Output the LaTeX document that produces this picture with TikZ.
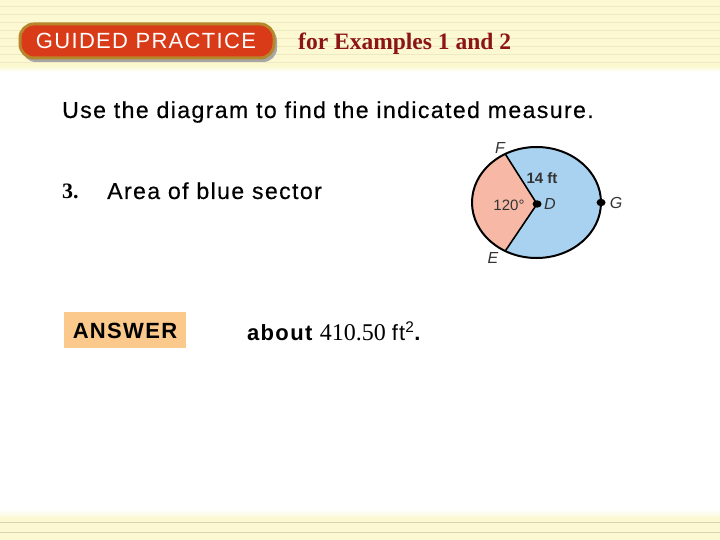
\documentclass[tikz,border=0pt]{standalone}
\usepackage{fontspec}
\setmainfont{Liberation Serif}
\setsansfont{Liberation Sans}
\newfontfamily\arialsp[LetterSpace=6,FakeBold=0.4]{Liberation Sans}
\newfontfamily\arialbt[LetterSpace=6]{Liberation Sans}
\usetikzlibrary{calc,shapes.geometric}
\definecolor{bandY}{HTML}{FBF8D2}
\definecolor{stripe}{HTML}{EDEAC0}
\definecolor{btnred}{HTML}{D93A17}
\definecolor{btngold}{HTML}{B8862A}
\definecolor{darkred}{HTML}{8C1414}
\definecolor{pinkS}{HTML}{F7B9A6}
\definecolor{blueS}{HTML}{A9D2F0}
\definecolor{ansbg}{HTML}{FBC98B}
\definecolor{lab}{HTML}{333333}
\tikzset{
  body/.style={font=\arialsp\fontsize{23.1}{26}\selectfont, inner sep=0pt, anchor=base west},
  dlabel/.style={font=\sffamily\fontsize{15}{17}\selectfont, text=lab, inner sep=0pt},
  dlet/.style={dlabel, font=\sffamily\itshape\fontsize{16}{18}\selectfont},
  dot/.style={ellipse, fill=black, inner sep=0pt, minimum width=9pt, minimum height=7.5pt},
}
\begin{document}
\begin{tikzpicture}[x=1pt,y=-1pt]
\useasboundingbox (0,0) rectangle (720,540);
% header band
\fill[bandY] (0,0) rectangle (720,66);
\shade[top color=bandY, bottom color=white] (0,66) rectangle (720,72);
\foreach \yy in {6,14,22,30,38,46,54,62}
  \draw[stripe, line width=0.8pt] (0,\yy) -- (720,\yy);
% bottom band
\shade[top color=white, bottom color=bandY] (0,510) rectangle (720,518);
\fill[bandY] (0,518) rectangle (720,540);
\foreach \yy in {522,532}
  \draw[stripe!80!gray, line width=0.8pt] (0,\yy) -- (720,\yy);
% button
\fill[black!35, rounded corners=14pt] (22,27) rectangle (277,62);
\draw[btngold, line width=3pt, fill=btnred, rounded corners=14pt] (20,24) rectangle (274,58);
\node[font=\arialbt\fontsize{22}{26}\selectfont, text=white, inner sep=0pt, anchor=base] (btn) at (146,49) {GUIDED PRACTICE};
\node[font=\bfseries\fontsize{23.5}{26}\selectfont, text=darkred, inner sep=0pt, anchor=base west] (ex) at (298,50) {for Examples 1 and 2};
% instruction
\node[body] (instr) at (62,118) {Use the diagram to find the indicated measure.};
\node[font=\bfseries\fontsize{22}{24}\selectfont, inner sep=0pt, anchor=base west] (num) at (62,199) {3.};
\node[body] (area) at (107,199) {Area of blue sector};
% answer
\fill[ansbg] (64,312) rectangle (186,348);
\node[font=\arialbt\bfseries\fontsize{22}{26}\selectfont, inner sep=0pt, anchor=base] (ans) at (125,338) {ANSWER};
\node[inner sep=0pt, anchor=base west] (res) at (247,340)
  {{\arialbt\bfseries\fontsize{22}{26}\selectfont about }{\fontsize{24}{26}\selectfont 410.50 }{\arialbt\fontsize{22}{26}\selectfont ft\textsuperscript{2}}{\arialbt\bfseries\fontsize{22}{26}\selectfont .}};
% circle diagram
\coordinate (C) at (536.5,202.5);
\coordinate (D) at (537,204);
\coordinate (F) at ($(C)+(241:64.5 and 55.5)$);
\coordinate (E) at ($(C)+(119:64.5 and 55.5)$);
\coordinate (Gp) at ($(C)+(0:64.5 and 55.5)$);
\fill[blueS] (C) ellipse[x radius=64.5, y radius=55.5];
\fill[pinkS] (D) -- (F) arc[start angle=241, end angle=119, x radius=64.5, y radius=55.5] -- cycle;
\draw[line width=1.6pt] (F) -- (D) -- (E);
\draw[line width=2pt] (C) ellipse[x radius=64.5, y radius=55.5];
\node[dot] (Dd) at (D) {};
\node[dot] (Gd) at (Gp) {};
\node[dlet] (lF) at (500,148) {F};
\node[dlet] (lE) at (493,258) {E};
\node[dlet] (lD) at (550,204) {D};
\node[dlet] (lG) at (616,203) {G};
\node[dlabel, font=\sffamily\bfseries\fontsize{15}{17}\selectfont] (l14) at (542,178) {14 ft};
\node[dlabel] (l120) at (509,205) {120°};
\end{tikzpicture}
\end{document}
